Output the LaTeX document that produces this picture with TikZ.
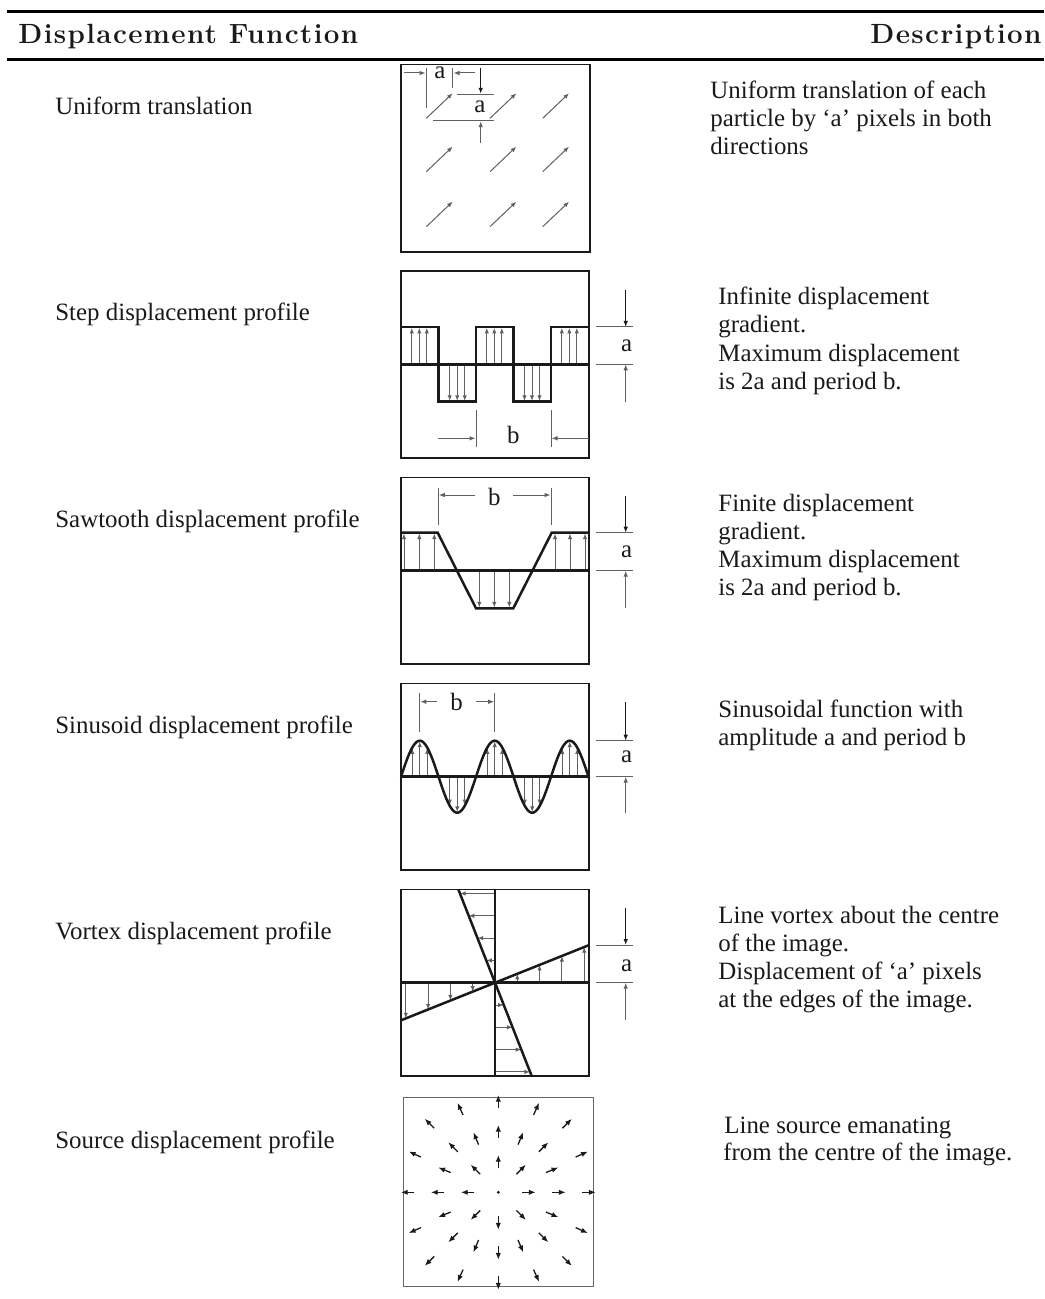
\documentclass[tikz,border=0pt]{standalone}
\usepackage{fontspec}
\setmainfont{Liberation Serif}
\newfontfamily\hdrfont[LetterSpace=5]{Latin Modern Roman}
\usetikzlibrary{arrows.meta}
\definecolor{ink}{HTML}{1A1A1A}
\newcommand\bodyfs{\fontsize{12.45}{14}\selectfont}
\begin{document}
\begin{tikzpicture}[x=0.5pt,y=-0.5pt,
  every node/.style={inner sep=0pt, text=ink},
  lbl/.style={anchor=base west, font=\bodyfs},
  sym/.style={anchor=base, font=\bodyfs},
  hdr/.style={font={\hdrfont\bfseries\fontsize{13.9}{16}\selectfont}},
  rule/.style={draw=black, line width=1.5pt},
  frame/.style={draw=ink, line width=0.65pt},
  prof/.style={draw=ink, line width=1.25pt, line join=miter},
  dim/.style={draw=black!62, line width=0.5pt},
  dimarr/.style={dim, -{Latex[length=3pt,width=2.3pt]}},
  dimdn/.style={draw=ink, line width=0.6pt, -{Latex[length=3pt,width=2.3pt]}},
  vec/.style={draw=black!62, line width=0.5pt, -{Latex[length=2.8pt,width=2.2pt]}},
  srcvec/.style={draw=ink, line width=0.65pt, -{Latex[length=3.4pt,width=2.7pt]}},
]
\useasboundingbox (0,0) rectangle (1044,1299);
\fill[white] (0,0) rectangle (1044,1299);

% header
\draw[rule] (7,11.5) -- (1044,11.5);
\draw[rule] (7,59.5) -- (1044,59.5);
\node[hdr, anchor=base west] (h1) at (18,43.5) {Displacement Function};
\node[hdr, anchor=base east] (h2) at (1042,43.5) {Description};

% left labels
\node[lbl] (l1) at (55,115) {Uniform translation};
\node[lbl] (l2) at (55,321) {Step displacement profile};
\node[lbl] (l3) at (55,527) {Sawtooth displacement profile};
\node[lbl] (l4) at (55,733) {Sinusoid displacement profile};
\node[lbl] (l5) at (55,939) {Vortex displacement profile};
\node[lbl] (l6) at (55,1148) {Source displacement profile};

% descriptions
\node[lbl] (d11) at (710,99) {Uniform translation of each};
\node[lbl] (d12) at (710,127) {particle by ‘a’ pixels in both};
\node[lbl] (d13) at (710,155) {directions};
\node[lbl] (d21) at (718,305) {Infinite displacement};
\node[lbl] (d22) at (718,333) {gradient.};
\node[lbl] (d23) at (718,361) {Maximum displacement};
\node[lbl] (d24) at (718,389) {is 2a and period b.};
\node[lbl] (d31) at (718,511) {Finite displacement};
\node[lbl] (d32) at (718,539) {gradient.};
\node[lbl] (d33) at (718,567) {Maximum displacement};
\node[lbl] (d34) at (718,595) {is 2a and period b.};
\node[lbl] (d41) at (718,717) {Sinusoidal function with};
\node[lbl] (d42) at (718,745) {amplitude a and period b};
\node[lbl] (d51) at (718,923) {Line vortex about the centre};
\node[lbl] (d52) at (718,951) {of the image.};
\node[lbl] (d53) at (718,979) {Displacement of ‘a’ pixels};
\node[lbl] (d54) at (718,1007) {at the edges of the image.};
\node[lbl] (d61) at (724,1133) {Line source emanating};
\node[lbl] (d62) at (723,1160) {from the centre of the image.};

% ---------- panel 1: uniform translation
\draw[frame] (401,64.5) rectangle (590,252);
\foreach \x in {426.3,490,542.7}
  \foreach \y in {118.3,171.7,226.7}
    \draw[vec] (\x,\y) -- ++(26.3,-25);
\draw[dimarr] (404,73) -- (425.5,73);
\draw[dim] (426.3,68) -- (426.3,108);
\node[sym] (a1) at (440,78.3) {a};
\draw[dim] (452.7,68) -- (452.7,88);
\draw[dimarr] (475,73) -- (453.5,73);
\draw[dimdn] (480.7,68) -- (480.7,93.8);
\draw[dim] (457,94.3) -- (494,94.3);
\node[sym] (a1b) at (480,112.3) {a};
\draw[dim] (433,120.7) -- (494,120.7);
\draw[dimarr] (480.7,143) -- (480.7,121.2);

% ---------- panel 2: step
\draw[frame] (401,271) rectangle (589,458);
\foreach \c in {419.3,494.3,569.3}
  \foreach \d in {-7.5,0,7.5}
    \draw[vec] ({\c+\d},364.3) -- ({\c+\d},327.8);
\foreach \c in {457.2,532}
  \foreach \d in {-7.5,0,7.5}
    \draw[vec] ({\c+\d},364.3) -- ({\c+\d},400.9);
\draw[prof] (401,364.3) -- (589,364.3);
\draw[prof] (401,327) -| (438.3,401.7) -| (476,327) -| (513.3,401.7) -| (551,327) -- (589,327);
\draw[dim] (596,327) -- (633,327);
\draw[dim] (596,364.3) -- (633,364.3);
\draw[dimdn] (625.7,290) -- (625.7,327);
\node[sym] (a2) at (626.7,351) {a};
\draw[dimarr] (625.7,401.7) -- (625.7,364.3);
\draw[dim] (476,410) -- (476,447);
\draw[dim] (551,410) -- (551,447);
\draw[dimarr] (438.3,438.3) -- (475.5,438.3);
\node[sym] (b2) at (513.3,443.3) {b};
\draw[dimarr] (589,438.3) -- (551.5,438.3);

% ---------- panel 3: sawtooth
\draw[frame] (401,477.3) rectangle (589,664);
\foreach \x in {404,419.3,434.3,555,570,585}
  \draw[vec] (\x,570.7) -- (\x,533.5);
\foreach \x in {479.3,494.3,509.3}
  \draw[vec] (\x,570.7) -- (\x,607.5);
\draw[prof] (401,570.7) -- (589,570.7);
\draw[prof] (401,532.7) -- (437.7,532.7) -- (476,608.3) -- (513.3,608.3) -- (551.7,532.7) -- (589,532.7);
\draw[dim] (438.3,488) -- (438.3,525);
\draw[dim] (551,488) -- (551,525);
\draw[dimarr] (475,495) -- (438.8,495);
\node[sym] (b3) at (494.3,505) {b};
\draw[dimarr] (513.3,495) -- (550.5,495);
\draw[dim] (596,532.7) -- (633,532.7);
\draw[dim] (596,570.7) -- (633,570.7);
\draw[dimdn] (625.7,496) -- (625.7,532.7);
\node[sym] (a3) at (626.7,557.3) {a};
\draw[dimarr] (625.7,608.3) -- (625.7,570.7);

% ---------- panel 4: sinusoid
\draw[frame] (401,683.3) rectangle (589,870);
\foreach \p in {419.75,494.75,569.75}
  \foreach \d in {-7.5,0,7.5}
    \draw[vec] ({\p+\d},776.7) -- ({\p+\d},{776.7-35.2*cos(4.8*\d)});
\foreach \p in {457.25,532.25}
  \foreach \d in {-7.5,0,7.5}
    \draw[vec] ({\p+\d},776.7) -- ({\p+\d},{776.7+35.2*cos(4.8*\d)});
\draw[prof] (401,776.7) -- (589,776.7);
\draw[prof] plot[domain=0:188, samples=150, smooth] ({401+\x},{776.7-36*sin(4.8*\x)});
\draw[dim] (419.75,693) -- (419.75,732);
\draw[dim] (494.75,693) -- (494.75,732);
\draw[dimarr] (436.7,701.7) -- (420.3,701.7);
\node[sym] (b4) at (456.7,710) {b};
\draw[dimarr] (476,701.7) -- (494.2,701.7);
\draw[dim] (596,740.7) -- (633,740.7);
\draw[dim] (596,776.7) -- (633,776.7);
\draw[dimdn] (625.7,701.7) -- (625.7,740.7);
\node[sym] (a4) at (626.7,762.3) {a};
\draw[dimarr] (625.7,813) -- (625.7,776.7);

% ---------- panel 5: vortex
\draw[frame] (401,889.3) rectangle (589,1076);
\foreach \d in {22.3,44.6,66.9,89.2} {
  \draw[vec] ({495+\d},982.7) -- ({495+\d},{982.7-0.4*\d});
  \draw[vec] ({495-\d},982.7) -- ({495-\d},{982.7+0.4*\d});
  \draw[vec] (495,{982.7-\d}) -- ({495-0.393*\d},{982.7-\d});
  \draw[vec] (495,{982.7+\d}) -- ({495+0.393*\d},{982.7+\d});
}
\draw[prof] (401,982.7) -- (589,982.7);
\draw[prof] (495,889.3) -- (495,1076);
\draw[prof] (401,1020.3) -- (589,945.1);
\draw[prof] (458.3,889.3) -- (531.7,1076);
\draw[dim] (596,945) -- (633,945);
\draw[dim] (596,982.7) -- (633,982.7);
\draw[dimdn] (625.7,908.3) -- (625.7,945);
\node[sym] (a5) at (626.7,971.7) {a};
\draw[dimarr] (625.7,1020) -- (625.7,982.7);

% ---------- panel 6: source
\draw[frame, draw=black!60] (403.3,1097.7) rectangle (593.3,1286.7);
\coordinate (c6) at (498.3,1192.3);
\fill[ink] (c6) circle[radius=0.8pt];
\begin{scope}[shift={(498.3,1192.3)}]
  \foreach \a in {0,90,180,270}
    \foreach \r in {30.7,60.7,90.7} {
      \pgfmathsetmacro\ra{\r-6.7}\pgfmathsetmacro\rb{\r+6.7}
      \draw[srcvec] (\a:\ra) -- (\a:\rb);
    }
  \foreach \a in {45,135,225,315}
    \foreach \r in {32.3,64,97.3} {
      \pgfmathsetmacro\ra{\r-6.7}\pgfmathsetmacro\rb{\r+6.7}
      \draw[srcvec] (\a:\ra) -- (\a:\rb);
    }
  \foreach \a in {22.5,67.5,112.5,157.5,202.5,247.5,292.5,337.5} {
      \draw[srcvec] (\a:51.6) -- (\a:65);
  }
  \foreach \a in {24.5,65.5,114.5,155.5,204.5,245.5,294.5,335.5} {
      \draw[srcvec] (\a:85) -- (\a:98.4);
  }
\end{scope}
\end{tikzpicture}
\end{document}
